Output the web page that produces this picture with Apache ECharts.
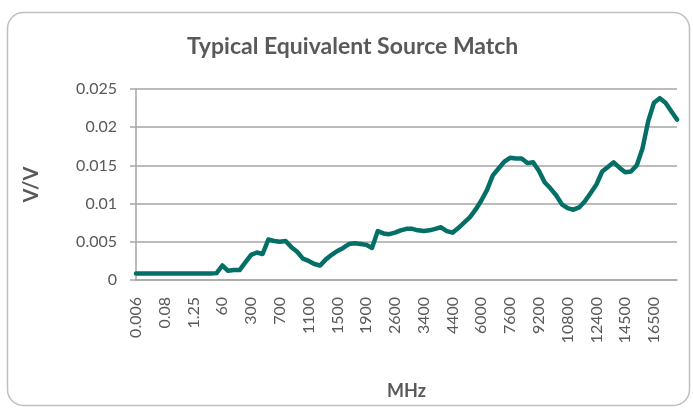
<!DOCTYPE html>
<html><head><meta charset="utf-8">
<script src="https://cdn.jsdelivr.net/npm/echarts@6/dist/echarts.min.js"></script>
<style>html,body{margin:0;padding:0;background:#fff}#c{width:693px;height:408px}</style>
</head><body><div id="c"></div>
<script>
const frequenciesMHz = [
 '0.006','0.01','0.02','0.04','0.06',
 '0.08','0.1','0.2','0.5','1',
 '1.25','2','5','10','30',
 '60','100','150','200','250',
 '300','380','460','540','620',
 '700','780','860','940','1020',
 '1100','1180','1260','1340','1420',
 '1500','1580','1660','1740','1820',
 '1900','2040','2180','2320','2460',
 '2600','2760','2920','3080','3240',
 '3400','3600','3800','4000','4200',
 '4400','4720','5040','5360','5680',
 '6000','6320','6640','6960','7280',
 '7600','7920','8240','8560','8880',
 '9200','9520','9840','10160','10480',
 '10800','11120','11440','11760','12080',
 '12400','12820','13240','13660','14080',
 '14500','14900','15300','15700','16100',
 '16500','16800','17100','17400','17700'
];
const sourceMatch = [
 0.00085,0.00085,0.00085,0.00085,0.00085,
 0.00085,0.00085,0.00085,0.00085,0.00085,
 0.00085,0.00085,0.00085,0.00085,0.00090,
 0.0019,0.0012,0.0013,0.0013,0.0023,
 0.0033,0.0036,0.0034,0.0053,0.0051,
 0.0050,0.0051,0.0043,0.0037,0.0028,
 0.0025,0.0021,0.0019,0.0027,0.0033,
 0.0038,0.0042,0.0047,0.0048,0.0047,
 0.0046,0.0042,0.0064,0.0061,0.0060,
 0.0062,0.0065,0.0067,0.0067,0.0065,
 0.0064,0.0065,0.0067,0.0069,0.0064,
 0.0062,0.0068,0.0075,0.0082,0.0092,
 0.0104,0.0118,0.0137,0.0146,0.0155,
 0.0160,0.0159,0.0159,0.0153,0.0154,
 0.0143,0.0128,0.0120,0.0111,0.0099,
 0.0094,0.0092,0.0095,0.0103,0.0114,
 0.0125,0.0142,0.0148,0.0154,0.0147,
 0.0141,0.0142,0.0150,0.0172,0.0208,
 0.0232,0.0238,0.0232,0.0221,0.0210
];
const yTicks = {min: 0, max: 0.025, interval: 0.005};
const titleText = 'Typical Equivalent Source Match';
const xName = 'MHz';
const yName = 'V/V';

const chart = echarts.init(document.getElementById('c'), null, {renderer: 'canvas'});
const txt = '#595959';
const font = 'Lato, "Open Sans", sans-serif';
chart.setOption({
  animation: false,
  backgroundColor: '#fff',
  graphic: [{
    type: 'rect', z: -1, silent: true,
    shape: {x: 7.5, y: 12.5, width: 682, height: 393, r: 16},
    style: {fill: '#fff', stroke: '#bfbfbf', lineWidth: 1.5}
  }],
  title: {
    text: titleText, left: 182, top: 30,
    textStyle: {fontFamily: font, fontSize: 23, fontWeight: 'bold', color: txt}
  },
  grid: {left: 136, right: 16, top: 89, bottom: 128, containLabel: false},
  xAxis: {
    type: 'category', data: frequenciesMHz, boundaryGap: false,
    name: xName, nameLocation: 'middle', nameGap: 102,
    nameTextStyle: {fontFamily: font, fontSize: 18, fontWeight: 'bold', color: txt},
    axisLine: {lineStyle: {color: '#a6a6a6', width: 1.5}},
    axisTick: {show: false},
    axisLabel: {interval: 4, rotate: 90, margin: 17, fontFamily: font, fontSize: 16, color: txt}
  },
  yAxis: {
    type: 'value', min: yTicks.min, max: yTicks.max, interval: yTicks.interval,
    name: yName, nameLocation: 'middle', nameGap: 94, nameRotate: 90,
    nameTextStyle: {fontFamily: font, fontSize: 20, fontWeight: 'bold', color: txt},
    axisLine: {show: true, lineStyle: {color: '#a6a6a6', width: 1.5}},
    axisTick: {show: true, length: 6, lineStyle: {color: '#a6a6a6', width: 1.5}},
    splitLine: {lineStyle: {color: '#a6a6a6', width: 1.5}},
    axisLabel: {margin: 19, fontFamily: font, fontSize: 16, color: txt,
      formatter: v => String(Number(v.toFixed(3)))}
  },
  series: [{
    type: 'line', data: sourceMatch, showSymbol: false, smooth: false,
    lineStyle: {color: '#046f67', width: 4.5, join: 'round', cap: 'round'}
  }]
});
</script></body></html>
